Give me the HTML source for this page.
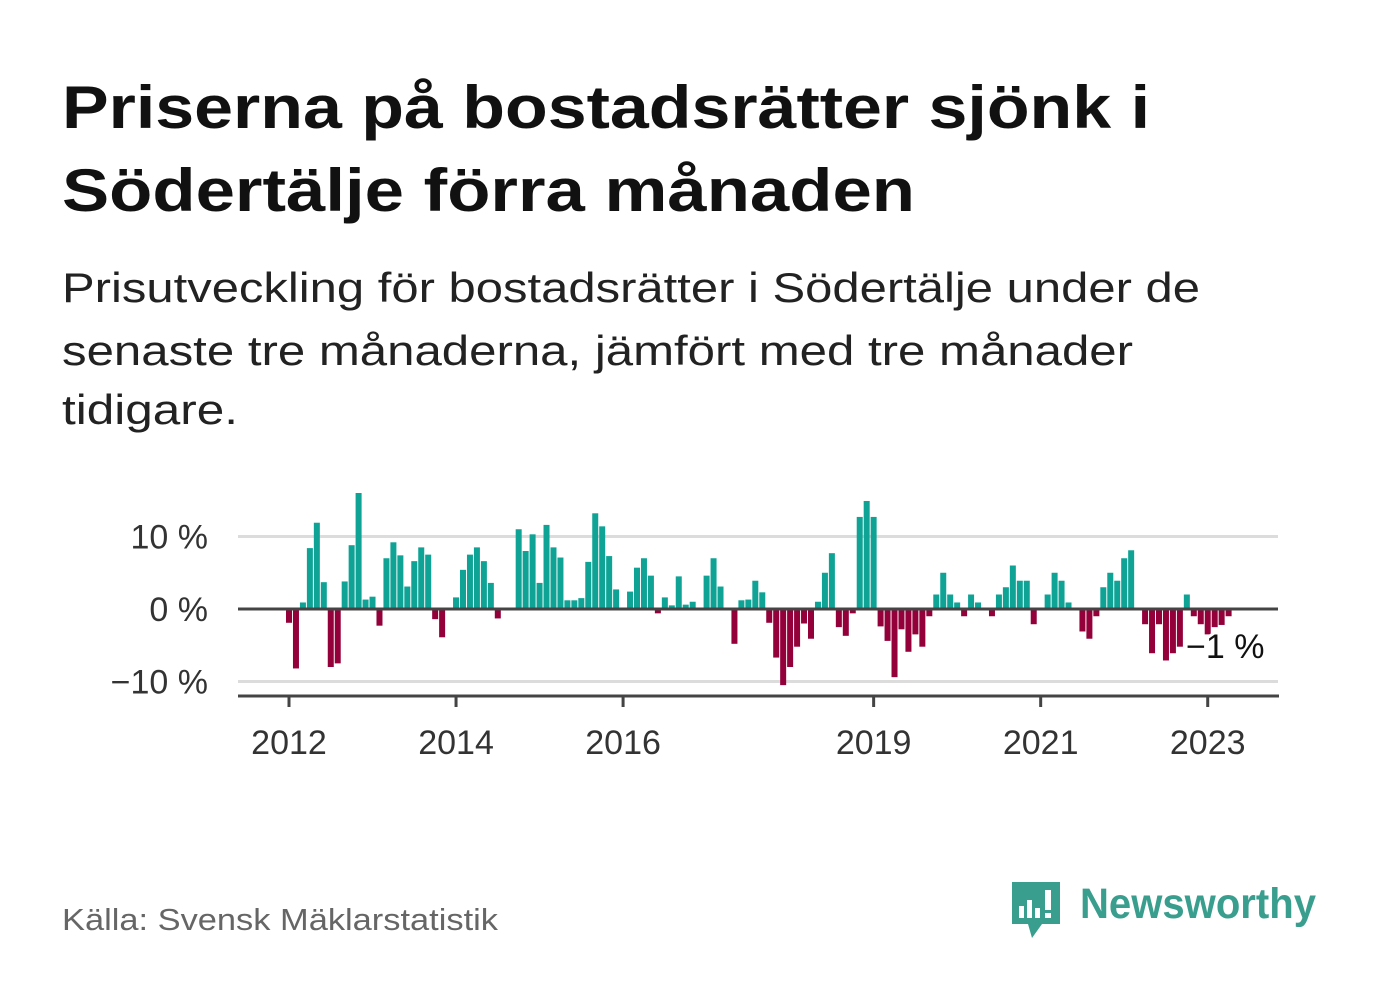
<!DOCTYPE html>
<html><head><meta charset="utf-8"><style>
html,body{margin:0;padding:0;background:#fff;}
svg{display:block;font-family:"Liberation Sans",sans-serif;}
</style></head><body>
<svg width="1382" height="999" viewBox="0 0 1382 999">
<text x="62" y="128" font-size="60" font-weight="bold" fill="#111" textLength="1088" lengthAdjust="spacingAndGlyphs">Priserna på bostadsrätter sjönk i</text>
<text x="62" y="211" font-size="60" font-weight="bold" fill="#111" textLength="853" lengthAdjust="spacingAndGlyphs">Södertälje förra månaden</text>
<text x="62" y="302" font-size="42" fill="#222" textLength="1138" lengthAdjust="spacingAndGlyphs">Prisutveckling för bostadsrätter i Södertälje under de</text>
<text x="62" y="365" font-size="42" fill="#222" textLength="1071" lengthAdjust="spacingAndGlyphs">senaste tre månaderna, jämfört med tre månader</text>
<text x="62" y="424" font-size="42" fill="#222" textLength="176" lengthAdjust="spacingAndGlyphs">tidigare.</text>
<g id="chart"></g>
<text x="62" y="930" font-size="31" fill="#666" textLength="436" lengthAdjust="spacingAndGlyphs">Källa: Svensk Mäklarstatistik</text>
<g>
<path d="M1012 882 h48 v42 h-18 l-10 14 l-4 -14 h-16 z" fill="#3a9e8f"/>
<rect x="1019" y="906" width="5" height="12" fill="#fff"/>
<rect x="1027" y="900" width="5" height="18" fill="#fff"/>
<rect x="1035" y="908" width="5" height="10" fill="#fff"/>
<rect x="1045" y="890" width="6" height="20" fill="#fff"/>
<rect x="1045" y="913" width="6" height="5" fill="#fff"/>
<text x="1080" y="918" font-size="43" font-weight="bold" fill="#3a9e8f" textLength="236" lengthAdjust="spacingAndGlyphs">Newsworthy</text>
</g>
</svg>
<script>
const values = [-1.9,-8.2,0.9,8.4,11.9,3.7,-8.0,-7.5,3.8,8.8,16.0,1.3,1.7,-2.3,7.0,9.2,7.4,3.1,6.6,8.5,7.5,-1.4,-3.9,0,1.6,5.4,7.5,8.5,6.6,3.6,-1.3,0,0,11.0,8.0,10.3,3.6,11.6,8.5,7.1,1.2,1.2,1.5,6.5,13.2,11.4,7.3,2.7,0,2.4,5.7,7.0,4.6,-0.6,1.6,0.5,4.5,0.6,1.0,0,4.6,7.0,3.1,0,-4.8,1.2,1.3,3.9,2.3,-1.9,-6.7,-10.5,-8.0,-5.2,-2.0,-4.1,1.0,5.0,7.7,-2.5,-3.7,-0.6,12.7,14.9,12.7,-2.4,-4.4,-9.4,-2.8,-5.9,-3.5,-5.2,-1.0,2.0,5.0,2.0,0.9,-1.0,2.0,0.9,0,-1.0,2.0,3.0,6.0,3.9,3.9,-2.1,0,2.0,5.0,3.9,0.9,0,-3.1,-4.1,-1.0,3.0,5.0,3.9,7.0,8.1,0,-2.1,-6.1,-2.1,-7.1,-6.1,-5.2,2.0,-1.0,-2.1,-3.5,-2.5,-2.2,-1.0];
const startYear = 2012;
const xTickYears = [2012,2014,2016,2019,2021,2023];
const yTicks = [10,0,-10];
const yTickLabels = ["10 %","0 %","\u221210 %"];
const lastLabel = "\u22121 %";

const NS = "http://www.w3.org/2000/svg";
const g = document.getElementById('chart');
const x0 = 289, pitch = 6.96, y0 = 609, pxPerPct = 7.25;
const xScale = i => x0 + i * pitch;
const yScale = v => y0 - v * pxPerPct;
function mk(tag, attrs){const e=document.createElementNS(NS,tag);for(const k in attrs)e.setAttribute(k,attrs[k]);g.appendChild(e);return e;}

yTicks.forEach((t,i)=>{
  if(t!==0){
    const l=mk('line',{x1:238,x2:1278,y1:yScale(t),y2:yScale(t),stroke:'#dcdcdc','stroke-width':3});
    
    
  }
  const tx=mk('text',{x:208,y:yScale(t)+12,'text-anchor':'end','font-size':34,fill:'#333'});
  tx.textContent=yTickLabels[i];
  
  
});

values.forEach((v,i)=>{
  if(v===0)return;
  const y=v>0?yScale(v):y0;
  const r=mk('rect',{x:xScale(i)-3,y:y,width:6,height:Math.abs(v)*pxPerPct,fill:v>0?'#0fa396':'#93003a'});
  
  
});

const z=mk('line',{x1:238,x2:1278,y1:y0,y2:y0,stroke:'#444','stroke-width':3});



const ax=mk('line',{x1:238,x2:1279,y1:696,y2:696,stroke:'#444','stroke-width':3});



xTickYears.forEach(yr=>{
  const x=xScale((yr-startYear)*12);
  const t=mk('line',{x1:x,x2:x,y1:696,y2:707,stroke:'#444','stroke-width':3});
  
  
  const tx=mk('text',{x:x,y:754,'text-anchor':'middle','font-size':34,fill:'#333'});
  tx.textContent=yr;
  
  
});

const lbl=mk('text',{x:1186,y:658,'font-size':34,fill:'#111',stroke:'#fff','stroke-width':6,'paint-order':'stroke'});
lbl.textContent=lastLabel;


</script>
</body></html>
